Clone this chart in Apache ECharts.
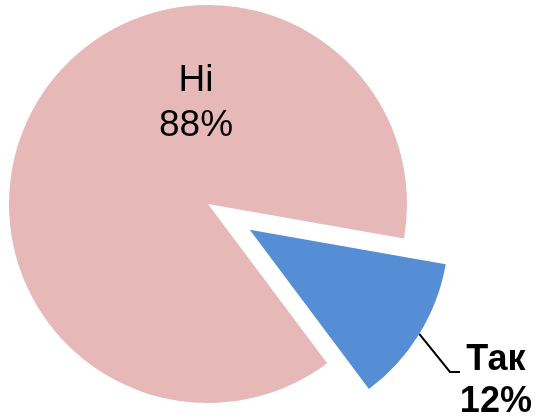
<!DOCTYPE html>
<html>
<head>
<meta charset="utf-8">
<script src="https://cdn.jsdelivr.net/npm/echarts@6/dist/echarts.min.js"></script>
<style>html,body{margin:0;padding:0;background:#fff}#c{width:538px;height:418px}</style>
</head>
<body>
<div id="c"></div>
<script>
const categories = ['Так', 'Ні'];
const values = [12, 88];
const colors = ['#558ED5', '#E6B9B8'];

const cx = 208, cy = 204, R = 199, startAngle = -10, offset = 49;

const total = values.reduce((a, b) => a + b, 0);
const midAngle0 = (startAngle - values[0] / total * 360 / 2) * Math.PI / 180;
const dx = offset * Math.cos(midAngle0);
const dy = -offset * Math.sin(midAngle0);
// label line points in the (unshifted) sector frame
const edgeX = cx + R * Math.cos(midAngle0);
const edgeY = cy - R * Math.sin(midAngle0);

const chart = echarts.init(document.getElementById('c'), null, {renderer: 'canvas'});
chart.setOption({
  animation: false,
  series: [{
    type: 'pie',
    center: [cx, cy],
    radius: R,
    startAngle: startAngle,
    clockwise: true,
    selectedMode: 'single',
    selectedOffset: offset,
    avoidLabelOverlap: false,
    emphasis: {disabled: true},
    label: {
      color: '#000',
      fontFamily: 'Liberation Sans, Arial, sans-serif',
      formatter: p => p.name + '\n' + p.value + '%'
    },
    data: categories.map((name, i) => ({
      name: name,
      value: values[i],
      selected: i === 0,
      itemStyle: {color: colors[i]},
      label: i === 0
        ? {position: 'outside', fontWeight: 'bold', fontSize: 36, lineHeight: 42, distanceToLabelLine: 0}
        : {position: 'inside', fontSize: 37, lineHeight: 45},
      labelLine: i === 0
        ? {show: true, length: 90, length2: 0, lineStyle: {color: '#000', width: 2}}
        : {show: false}
    })),
    labelLayout: function (p) {
      if (p.dataIndex === 0) {
        return {
          align: 'center', verticalAlign: 'middle',
          labelLinePoints: [[edgeX, edgeY], [450 - dx, 372 - dy], [460 - dx, 372 - dy]]
        };
      }
      return {x: 196, y: 103, align: 'center', verticalAlign: 'middle'};
    }
  }]
});
</script>
</body>
</html>
